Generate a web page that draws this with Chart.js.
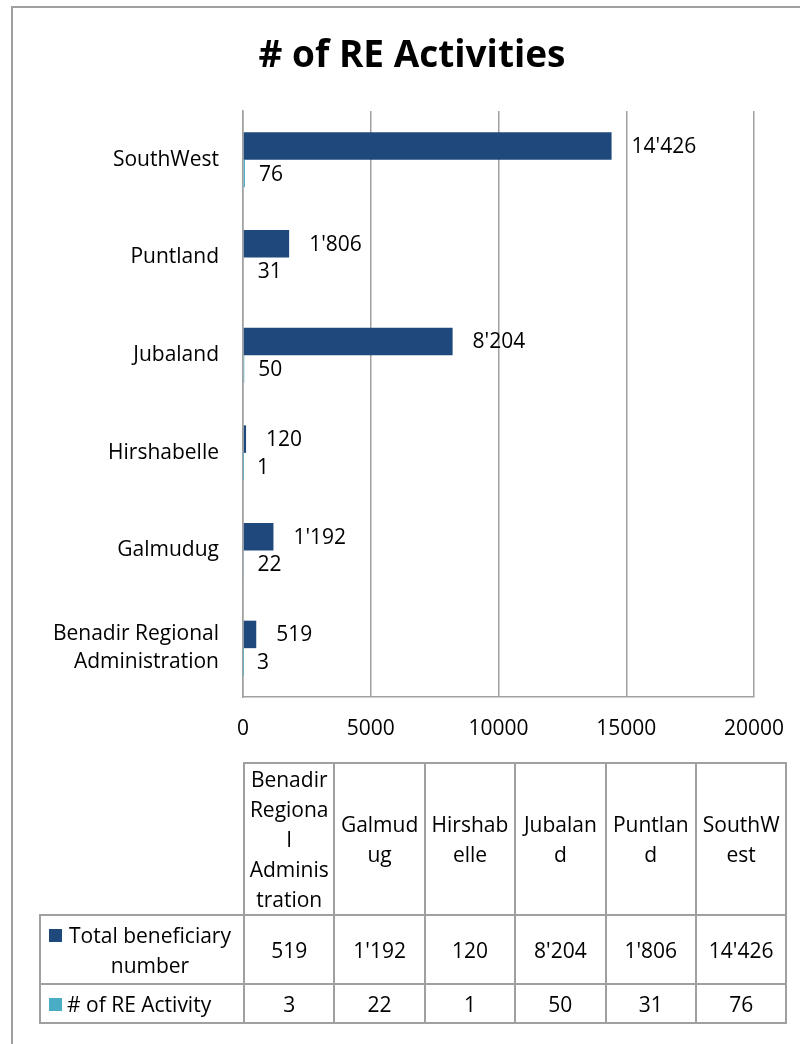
<!DOCTYPE html>
<html>
<head>
<meta charset="utf-8">
<script src="https://cdn.jsdelivr.net/npm/chart.js@4"></script>
<style>
  html, body { margin: 0; padding: 0; background: #fff; }
  body { width: 800px; height: 1044px; position: relative; overflow: hidden; font-family: 'Open Sans', sans-serif; }
  #frame { position: absolute; left: 11px; top: 6px; width: 800px; height: 1050px; border-left: 2px solid #a0a0a0; border-top: 2px solid #a0a0a0; }
  #wrap { position: absolute; left: 0; top: 0; width: 800px; height: 1044px; }
  #dataTable { position: absolute; left: 39px; top: 762px; border-collapse: collapse; table-layout: fixed; font-size: 21px; color: #000; }
  #dataTable td { border: 2px solid #a0a0a0; text-align: center; vertical-align: middle; padding: 0; line-height: 30px; white-space: pre-line; }
  #dataTable td.blank { border-top: none; border-left: none; }
  .key { display: flex; align-items: flex-start; }
  .sw { width: 13px; height: 13px; margin: 0 5px 0 8px; flex: none; }
  .kt { display: inline-block; max-width: 166px; text-align: center; }
</style>
</head>
<body>
<div id="frame"></div>
<div id="wrap"><canvas id="reChart"></canvas></div>
<table id="dataTable"></table>
<script>
const categories = ['Benadir Regional Administration', 'Galmudug', 'Hirshabelle', 'Jubaland', 'Puntland', 'SouthWest'];
const tableHeaders = ['Benadir\nRegiona\nl\nAdminis\ntration', 'Galmud\nug', 'Hirshab\nelle', 'Jubalan\nd', 'Puntlan\nd', 'SouthW\nest'];
const seriesNames = ['Total beneficiary number', '# of RE Activity'];
const beneficiaries = [519, 1192, 120, 8204, 1806, 14426];
const activities = [3, 22, 1, 50, 31, 76];
const xTicks = [0, 5000, 10000, 15000, 20000];
const chartTitle = '# of RE Activities';

const colors = ['#1F497D', '#4BACC6'];
const labelGap = [20, 14];
const fontFamily = "'Open Sans', sans-serif";

// 14426 -> 14'426
function fmt(v) {
  return String(v).replace(/\B(?=(\d{3})+(?!\d))/g, "'");
}

// split long category names into lines for the axis
function wrap(s, max) {
  const words = s.split(' ');
  const lines = [];
  let cur = '';
  words.forEach(w => {
    if (cur && (cur + ' ' + w).length > max) {
      lines.push(cur);
      cur = w;
    } else {
      cur = cur ? cur + ' ' + w : w;
    }
  });
  lines.push(cur);
  return lines.length > 1 ? lines : lines[0];
}

// value labels at the end of each bar
const valueLabels = {
  id: 'valueLabels',
  afterDatasetsDraw(chart) {
    const ctx = chart.ctx;
    ctx.save();
    ctx.font = '21px ' + fontFamily;
    ctx.fillStyle = '#000';
    ctx.textBaseline = 'middle';
    ctx.textAlign = 'left';
    chart.data.datasets.forEach((ds, i) => {
      chart.getDatasetMeta(i).data.forEach((bar, j) => {
        ctx.fillText(fmt(ds.data[j]), bar.x + labelGap[i], bar.y + 1);
      });
    });
    ctx.restore();
  }
};

// title sits over the whole chart object, not just the plot
const titlePlugin = {
  id: 'titleText',
  afterDraw(chart) {
    const ctx = chart.ctx;
    ctx.save();
    ctx.font = 'bold 37px ' + fontFamily;
    ctx.fillStyle = '#000';
    ctx.textAlign = 'center';
    ctx.textBaseline = 'middle';
    ctx.fillText(chartTitle, 412, 56);
    ctx.restore();
  }
};

const data = {
  labels: categories.map(c => wrap(c, 16)),
  datasets: [
    {
      label: seriesNames[0],
      data: beneficiaries,
      backgroundColor: colors[0],
      categoryPercentage: 0.563,
      barPercentage: 1
    },
    {
      label: seriesNames[1],
      data: activities,
      backgroundColor: colors[1],
      categoryPercentage: 0.563,
      barPercentage: 1
    }
  ]
};

const config = {
  type: 'bar',
  data: data,
  plugins: [valueLabels, titlePlugin],
  options: {
    indexAxis: 'y',
    responsive: false,
    animation: false,
    layout: { padding: { left: 0, right: 46, top: 111, bottom: 307 } },
    plugins: {
      legend: { display: false },
      tooltip: { enabled: false },
      title: { display: false }
    },
    scales: {
      x: {
        min: xTicks[0],
        max: xTicks[xTicks.length - 1],
        afterBuildTicks: s => { s.ticks = xTicks.map(v => ({ value: v })); },
        afterFit: s => {
          s.height = 40;
          s.paddingLeft = 0;
          s.paddingRight = 0;
        },
        grid: { color: '#a0a0a0', lineWidth: 1.5, drawTicks: false },
        border: { color: '#a0a0a0', width: 1.5 },
        ticks: {
          color: '#000',
          padding: 19,
          maxRotation: 0,
          font: { family: fontFamily, size: 21 },
          callback: v => String(v)
        }
      },
      y: {
        reverse: true,
        afterFit: s => { s.width = 243; },
        grid: { display: false },
        border: { color: '#a0a0a0', width: 1.5 },
        ticks: { color: '#000', padding: 16, font: { family: fontFamily, size: 21, lineHeight: 1.35 } }
      }
    }
  }
};

const canvas = document.getElementById('reChart');
canvas.width = 800;
canvas.height = 1044;
new Chart(canvas, config);

// data table under the chart
function buildTable() {
  const table = document.getElementById('dataTable');
  const colg = document.createElement('colgroup');
  const widths = [204].concat(categories.map(() => 90.4));
  widths.forEach(w => {
    const c = document.createElement('col');
    c.style.width = w + 'px';
    colg.appendChild(c);
  });
  table.appendChild(colg);

  const head = document.createElement('tr');
  head.style.height = '151px';
  const blank = document.createElement('td');
  blank.className = 'blank';
  head.appendChild(blank);
  tableHeaders.forEach(h => {
    const td = document.createElement('td');
    td.textContent = h;
    head.appendChild(td);
  });
  table.appendChild(head);

  const rows = [beneficiaries, activities];
  const heights = [69, 39];
  rows.forEach((vals, i) => {
    const tr = document.createElement('tr');
    tr.style.height = heights[i] + 'px';
    const key = document.createElement('td');
    key.style.textAlign = 'left';
    const box = document.createElement('div');
    box.className = 'key';
    const sw = document.createElement('span');
    sw.className = 'sw';
    sw.style.background = colors[i];
    sw.style.marginTop = '9px';
    const txt = document.createElement('span');
    txt.className = 'kt';
    txt.textContent = seriesNames[i];
    box.appendChild(sw);
    box.appendChild(txt);
    key.appendChild(box);
    tr.appendChild(key);
    vals.forEach(v => {
      const td = document.createElement('td');
      td.textContent = fmt(v);
      tr.appendChild(td);
    });
    table.appendChild(tr);
  });
}
buildTable();
</script>
</body>
</html>
